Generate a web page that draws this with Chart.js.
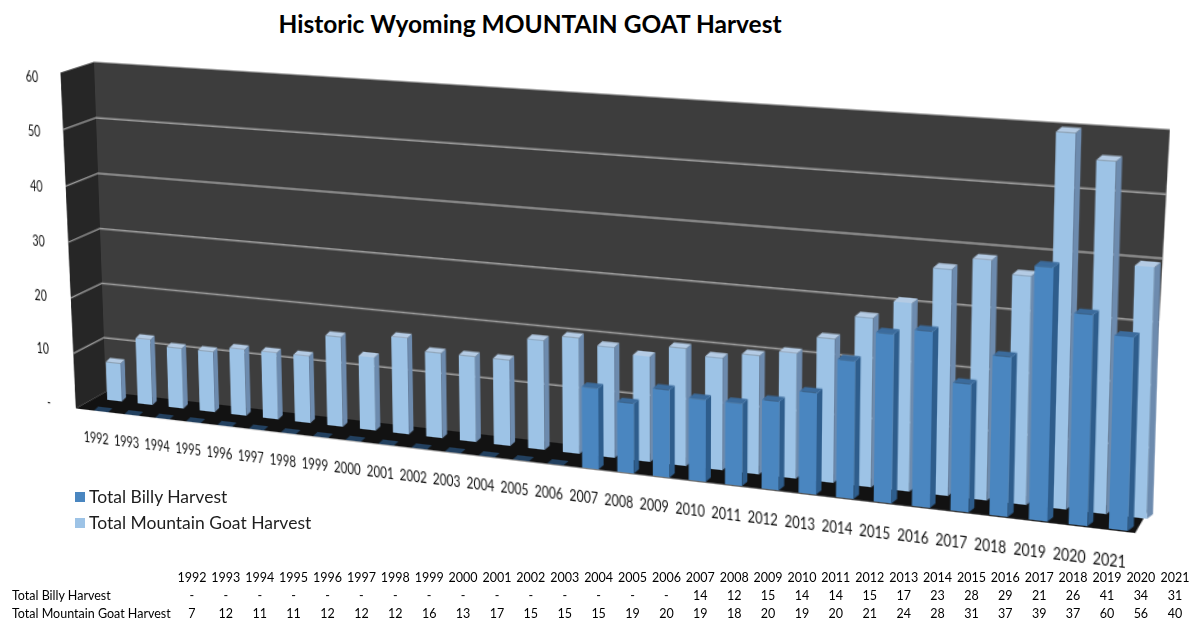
<!DOCTYPE html>
<html>
<head>
<meta charset="utf-8">
<title>Historic Wyoming MOUNTAIN GOAT Harvest</title>
<script src="https://cdn.jsdelivr.net/npm/chart.js@4.4.1/dist/chart.umd.min.js"></script>
<style>
  body { margin: 0; background: #fff; width: 1200px; height: 631px; overflow: hidden; position: relative; font-family: Lato, "Open Sans", sans-serif; }
  #title { position: absolute; left: 0; top: 9px; width: 1060px; text-align: center; font-weight: bold; font-size: 24.5px; color: #000; }
  #wall { position: absolute; left: 0; top: 0; transform-origin: 0 0; }
  #legend { position: absolute; left: 75px; top: 485px; font-size: 17.5px; color: #1e1e1e; }
  #legend div { height: 26px; line-height: 24px; white-space: nowrap; }
  #legend .box { display: inline-block; width: 10px; height: 10px; margin-right: 4px; vertical-align: 1px; }
  #table { position: absolute; left: 12px; top: 568px; border-collapse: collapse; table-layout: fixed; width: 1180px; font-size: 12.5px; color: #000; }
  #table td { padding: 0; height: 18px; text-align: center; white-space: nowrap; }
</style>
</head>
<body>
<div id="title">Historic Wyoming MOUNTAIN GOAT Harvest</div>
<div id="wall"><canvas id="myChart" width="1200" height="430"></canvas></div>
<div id="legend"></div>
<table id="table"></table>
<script>
// Data
const years = ['1992', '1993', '1994', '1995', '1996', '1997', '1998', '1999', '2000', '2001',
  '2002', '2003', '2004', '2005', '2006', '2007', '2008', '2009', '2010', '2011',
  '2012', '2013', '2014', '2015', '2016', '2017', '2018', '2019', '2020', '2021'];
const billyHarvest = [0, 0, 0, 0, 0, 0, 0, 0, 0, 0, 0, 0, 0, 0, 0,
  14, 12, 15, 14, 14, 15, 17, 23, 28, 29, 21, 26, 41, 34, 31];
const goatHarvest = [7, 12, 11, 11, 12, 12, 12, 16, 13, 17, 15, 15, 15, 19, 20,
  19, 18, 20, 19, 20, 21, 24, 28, 31, 37, 39, 37, 60, 56, 40];
const yTicks = [0, 10, 20, 30, 40, 50, 60];
const seriesNames = ['Total Billy Harvest', 'Total Mountain Goat Harvest'];

const billyColor = '#4a86c0';
const goatColor = '#9dc3e6';

// shift and face colours for each dataset (billy sits in front of the goat row)
const shades = [
  { dx: -16, dy: 18, side: '#2e5d8c', top: '#3b6b9c', flat: '#22405f' },
  { dx: 0, dy: 7, side: '#6d8bae', top: '#b4cbe4', flat: '#b4cbe4' }
];
const depth = [5, 4];
const inset = 8; // back wall is a bit narrower than the category axis at the bottom

function poly(ctx, pts) {
  ctx.beginPath();
  ctx.moveTo(pts[0][0], pts[0][1]);
  for (let i = 1; i < pts.length; i++) ctx.lineTo(pts[i][0], pts[i][1]);
  ctx.closePath();
  ctx.fill();
}

const wall3d = {
  id: 'wall3d',
  beforeDraw(chart) {
    const ctx = chart.ctx;
    const a = chart.chartArea;
    const y = chart.scales.y;
    const wl = a.left + inset;
    const wrTop = a.right, wrBot = a.right - inset;
    const rightAt = function(py) { return wrTop + (wrBot - wrTop) * (py - a.top) / (a.bottom - a.top); };
    ctx.save();
    ctx.fillStyle = '#3d3d3d';
    poly(ctx, [[wl, a.top], [wrTop, a.top], [wrBot, a.bottom], [wl, a.bottom]]);
    // left side wall
    ctx.fillStyle = '#262626';
    poly(ctx, [[wl, a.top], [wl, a.bottom], [wl - 36, a.bottom + 18], [wl - 39, a.top + 11]]);
    // floor
    ctx.fillStyle = '#121212';
    poly(ctx, [[wl, a.bottom], [wrBot, a.bottom], [wrBot - 11, a.bottom + 19], [wl - 36, a.bottom + 18]]);
    ctx.strokeStyle = '#9c9c9c';
    ctx.lineWidth = 1.3;
    yTicks.forEach(function(v) {
      if (v === 0 || v === 60) return;
      const py = y.getPixelForValue(v);
      const f = (py - a.top) / (a.bottom - a.top);
      ctx.beginPath();
      ctx.moveTo(wl - 39 + 3 * f, py + 11 + 7 * f);
      ctx.lineTo(wl, py);
      ctx.lineTo(rightAt(py), py);
      ctx.stroke();
    });
    ctx.restore();
  },
  beforeDatasetDraw(chart, args) {
    const s = shades[args.index];
    chart.ctx.save();
    chart.ctx.translate(s.dx, s.dy);
  },
  afterDatasetDraw(chart, args) {
    const ctx = chart.ctx;
    const s = shades[args.index];
    const values = chart.data.datasets[args.index].data;
    args.meta.data.forEach(function(bar, i) {
      const p = bar.getProps(['x', 'y', 'base', 'width'], true);
      const l = p.x - p.width / 2;
      const r = p.x + p.width / 2;
      ctx.fillStyle = s.side;
      poly(ctx, [[r, p.y], [r + depth[0], p.y - depth[1]], [r + depth[0], p.base - depth[1]], [r, p.base]]);
      ctx.fillStyle = values[i] === 0 ? s.flat : s.top;
      poly(ctx, [[l, p.y], [l + depth[0], p.y - depth[1]], [r + depth[0], p.y - depth[1]], [r, p.y]]);
    });
    ctx.restore();
  }
};

let ctx = document.getElementById('myChart').getContext('2d');
let myChart = new Chart(ctx, {
  type: 'bar',
  data: {
    labels: years,
    datasets: [{
      label: seriesNames[0],
      data: billyHarvest,
      backgroundColor: billyColor,
      grouped: false,
      barPercentage: 0.47,
      categoryPercentage: 1,
      clip: false
    }, {
      label: seriesNames[1],
      data: goatHarvest,
      backgroundColor: goatColor,
      grouped: false,
      barPercentage: 0.48,
      categoryPercentage: 1,
      clip: false
    }]
  },
  options: {
    responsive: false,
    animation: false,
    layout: { padding: { left: 10, right: 40, top: 20, bottom: 10 } },
    plugins: { legend: { display: false }, tooltip: { enabled: false } },
    scales: {
      x: {
        grid: { display: false },
        border: { display: false },
        ticks: { color: '#111', font: { size: 12.5, family: 'Lato' }, padding: 27, labelOffset: -23, maxRotation: 0, autoSkip: false }
      },
      y: {
        min: 0,
        max: 60,
        afterFit: function(scale) { scale.width = 90; },
        grid: { display: false },
        border: { display: false },
        ticks: {
          stepSize: 10,
          padding: 49,
          labelOffset: 16,
          color: '#111',
          font: { size: 12.5, family: 'Lato' },
          callback: function(v) { return v === 0 ? '-' : v; }
        }
      }
    }
  },
  plugins: [wall3d]
});

// bend the flat chart onto the back wall seen in perspective
function homography(src, dst) {
  let A = [];
  for (let i = 0; i < 4; i++) {
    const x = src[i][0], y = src[i][1], u = dst[i][0], v = dst[i][1];
    A.push([x, y, 1, 0, 0, 0, -u * x, -u * y, u]);
    A.push([0, 0, 0, x, y, 1, -v * x, -v * y, v]);
  }
  for (let c = 0; c < 8; c++) {
    let piv = c;
    for (let r = c + 1; r < 8; r++) if (Math.abs(A[r][c]) > Math.abs(A[piv][c])) piv = r;
    let tmp = A[c]; A[c] = A[piv]; A[piv] = tmp;
    for (let r = 0; r < 8; r++) {
      if (r === c) continue;
      const f = A[r][c] / A[c][c];
      for (let k = c; k < 9; k++) A[r][k] -= f * A[c][k];
    }
  }
  return A.map(function(row, i) { return row[8] / row[i]; });
}

const area = myChart.chartArea;
const h = homography(
  [[area.left, area.top], [area.right, area.top], [area.right, area.bottom], [area.left, area.bottom]],
  [[87, 61.5], [1170, 129.5], [1158, 511], [99, 391]]
);
document.getElementById('wall').style.transform =
  'matrix3d(' + [h[0], h[3], 0, h[6], h[1], h[4], 0, h[7], 0, 0, 1, 0, h[2], h[5], 0, 1].join(',') + ')';

// legend
const legend = document.getElementById('legend');
[billyColor, goatColor].forEach(function(col, i) {
  const row = document.createElement('div');
  row.innerHTML = '<span class="box" style="background:' + col + '"></span>' + seriesNames[i];
  legend.appendChild(row);
});

// data table
const table = document.getElementById('table');
function addRow(label, cells) {
  const tr = document.createElement('tr');
  const td0 = document.createElement('td');
  td0.textContent = label;
  td0.style.textAlign = 'left';
  td0.style.width = '163px';
  tr.appendChild(td0);
  cells.forEach(function(c) {
    const td = document.createElement('td');
    td.textContent = c;
    tr.appendChild(td);
  });
  table.appendChild(tr);
}
addRow('', years);
addRow(seriesNames[0], billyHarvest.map(function(v) { return v === 0 ? '-' : v; }));
addRow(seriesNames[1], goatHarvest);
</script>
</body>
</html>
